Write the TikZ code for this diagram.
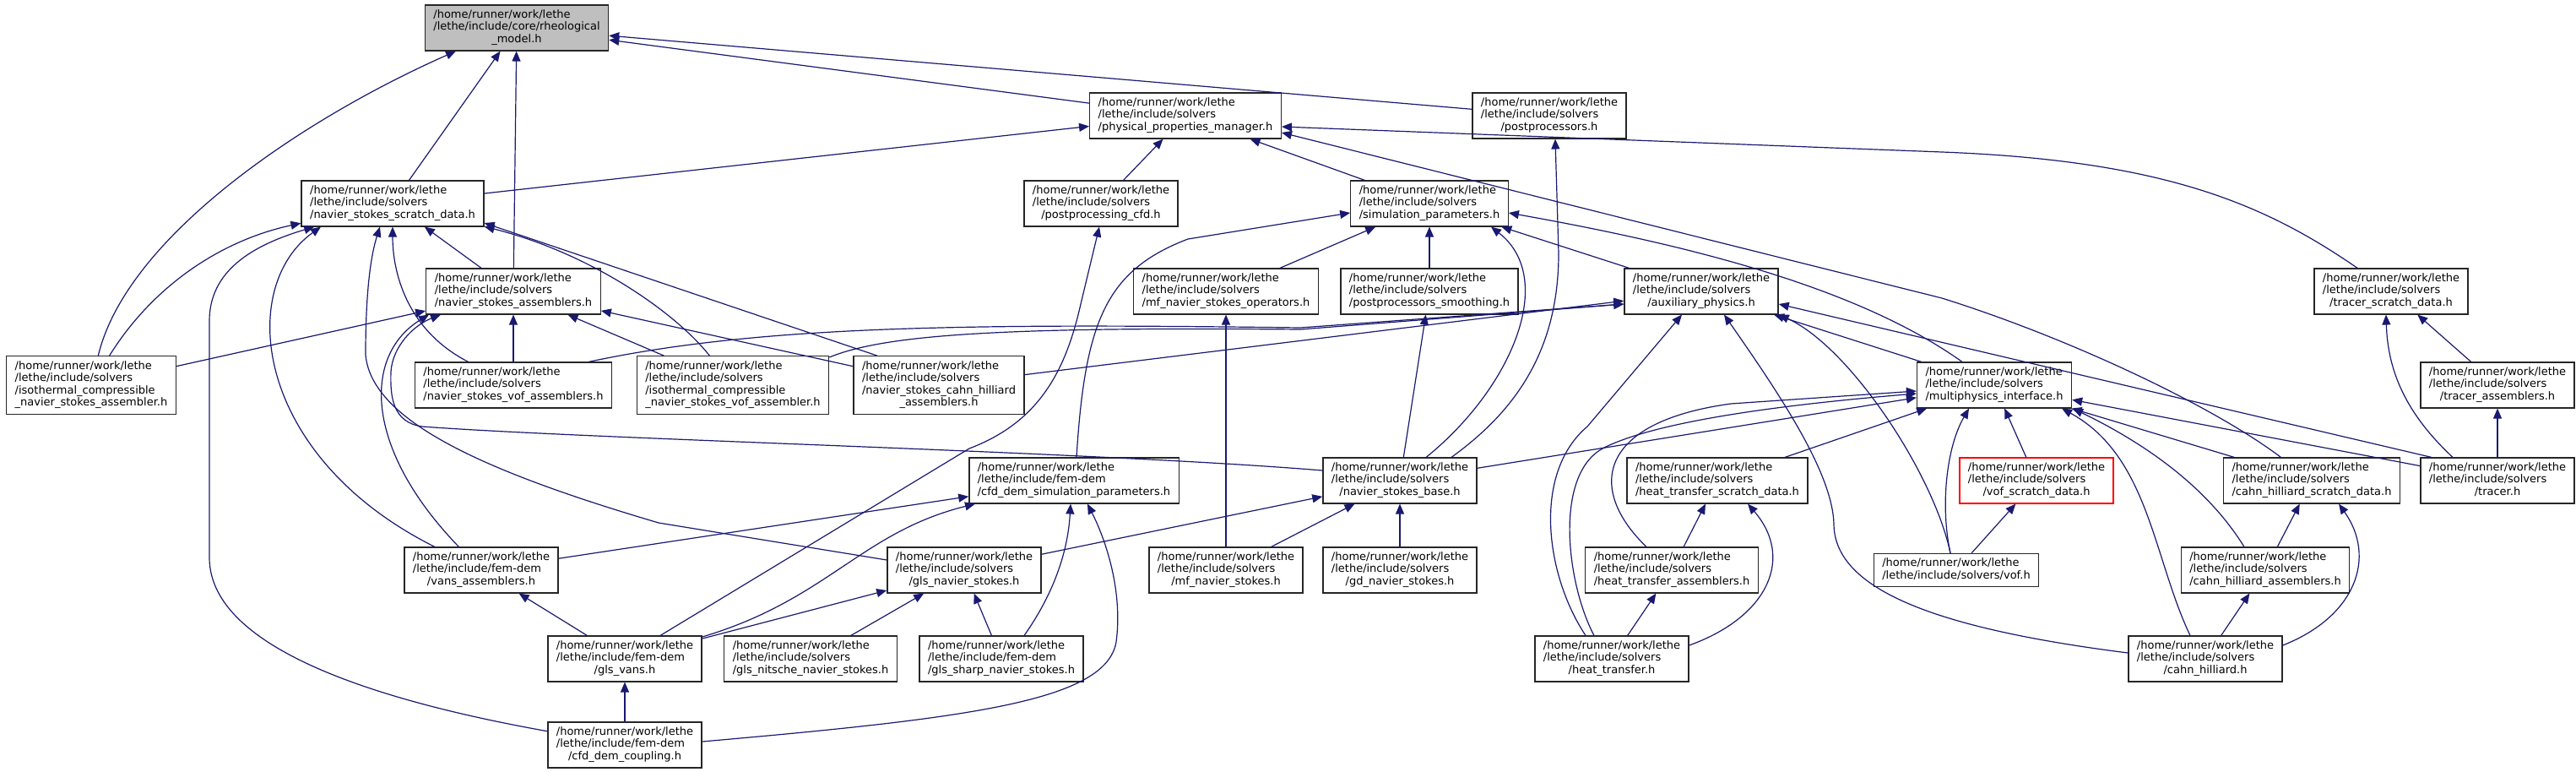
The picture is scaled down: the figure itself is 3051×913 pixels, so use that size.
\documentclass[tikz,border=0pt]{standalone}
\usepackage{fontspec}
\setmainfont{DejaVu Sans}
\usetikzlibrary{arrows.meta}

\definecolor{edgeblue}{HTML}{191970}
\definecolor{nodegray}{HTML}{BFBFBF}

\newcommand{\home}{/home/runner/work/lethe}
\newcommand{\fpath}[2]{\begin{tabular}{@{}l@{}}#1\\\multicolumn{1}{@{}c@{}}{#2}\end{tabular}}
\newcommand{\solv}[1]{\fpath{\home\\/lethe/include/solvers}{#1}}
\newcommand{\femdem}[1]{\fpath{\home\\/lethe/include/fem-dem}{#1}}

\tikzset{
  file/.style={draw=black!85, line width=1.3pt, fill=white, inner xsep=10pt, inner ysep=5pt,
    font=\fontsize{13}{14.6}\selectfont},
  edge/.style={draw=edgeblue, line width=1.2pt, -{Triangle[length=12pt,width=10pt]}},
}

\begin{document}
\begin{tikzpicture}[x=1pt,y=-1pt]
		\useasboundingbox[fill=white] (0,0) rectangle (3051,913);
		
		% Dateien
		\node[file, fill=nodegray] (rheo) at (612,33) {\fpath{\home\\/lethe/include/core/rheological}{\_model.h}};
		\node[file] (ppm) at (1404,137) {\solv{/physical\_properties\_manager.h}};
		\node[file] (pproc) at (1835,137) {\solv{/postprocessors.h}};
		\node[file] (scratch) at (465,241) {\solv{/navier\_stokes\_scratch\_data.h}};
		\node[file] (pcfd) at (1304,241) {\solv{/postprocessing\_cfd.h}};
		\node[file] (simpar) at (1693,241) {\solv{/simulation\_parameters.h}};
		\node[file] (nsasm) at (608,345) {\solv{/navier\_stokes\_assemblers.h}};
		\node[file] (mfops) at (1452,345) {\solv{/mf\_navier\_stokes\_operators.h}};
		\node[file] (ppsmooth) at (1693,345) {\solv{/postprocessors\_smoothing.h}};
		\node[file] (aux) at (2015,345) {\solv{/auxiliary\_physics.h}};
		\node[file] (trscratch) at (2832,345) {\solv{/tracer\_scratch\_data.h}};
		\node[file] (isoasm) at (108,456) {\fpath{\home\\/lethe/include/solvers\\/isothermal\_compressible}{\_navier\_stokes\_assembler.h}};
		\node[file] (vofasm) at (608,456) {\solv{/navier\_stokes\_vof\_assemblers.h}};
		\node[file] (isovof) at (868,456) {\fpath{\home\\/lethe/include/solvers\\/isothermal\_compressible}{\_navier\_stokes\_vof\_assembler.h}};
		\node[file] (chasmns) at (1112,456) {\fpath{\home\\/lethe/include/solvers\\/navier\_stokes\_cahn\_hilliard}{\_assemblers.h}};
		\node[file] (mpi) at (2362,456) {\solv{/multiphysics\_interface.h}};
		\node[file] (trasm) at (2958,456) {\solv{/tracer\_assemblers.h}};
		\node[file] (cdsp) at (1272,569) {\femdem{/cfd\_dem\_simulation\_parameters.h}};
		\node[file] (nsbase) at (1658,569) {\solv{/navier\_stokes\_base.h}};
		\node[file] (htscratch) at (2034,569) {\solv{/heat\_transfer\_scratch\_data.h}};
		\node[file, draw=red] (vofscratch) at (2412,569) {\solv{/vof\_scratch\_data.h}};
		\node[file] (chscratch) at (2738,569) {\solv{/cahn\_hilliard\_scratch\_data.h}};
		\node[file] (tracer) at (2958,569) {\solv{/tracer.h}};
		\node[file] (vansasm) at (570,675) {\femdem{/vans\_assemblers.h}};
		\node[file] (glsns) at (1142,675) {\solv{/gls\_navier\_stokes.h}};
		\node[file] (mfns) at (1452,675) {\solv{/mf\_navier\_stokes.h}};
		\node[file] (gdns) at (1658,675) {\solv{/gd\_navier\_stokes.h}};
		\node[file] (htasm) at (1980,675) {\solv{/heat\_transfer\_assemblers.h}};
		\node[file] (vof) at (2317,675) {\fpath{\home}{/lethe/include/solvers/vof.h}};
		\node[file] (chasm) at (2683,675) {\solv{/cahn\_hilliard\_assemblers.h}};
		\node[file] (glsvans) at (740,780) {\femdem{/gls\_vans.h}};
		\node[file] (nitsche) at (960,780) {\solv{/gls\_nitsche\_navier\_stokes.h}};
		\node[file] (sharp) at (1186,780) {\femdem{/gls\_sharp\_navier\_stokes.h}};
		\node[file] (ht) at (1909,780) {\solv{/heat\_transfer.h}};
		\node[file] (ch) at (2612,780) {\solv{/cahn\_hilliard.h}};
		\node[file] (cdc) at (740,882) {\femdem{/cfd\_dem\_coupling.h}};
		
		% rheological_model.h
		\draw[edge] (isoasm) .. controls (150,280) and (360,140) .. ([xshift=-72pt]rheo.south);
		\draw[edge] (scratch) -- (rheo);
		\draw[edge] (nsasm) -- (rheo);
		\draw[edge] (ppm) -- (rheo);
		\draw[edge] (pproc) -- (rheo);
		
		% physical_properties_manager.h
		\draw[edge] (scratch) -- (ppm);
		\draw[edge] (pcfd) -- (ppm);
		\draw[edge] (simpar) -- (ppm);
		\draw[edge] (trscratch) .. controls (2680,240) and (2560,190) .. (2300,180) -- ([yshift=-13pt]ppm.east);
		\draw[edge] (chscratch) .. controls (2620,480) and (2450,400) .. (2300,353) -- ([yshift=-20pt]ppm.east);
		
		% postprocessors.h
		\draw[edge] ([xshift=61pt]nsbase.north) .. controls (1790,490) and (1846,420) .. (1846,300) -- ([xshift=7pt]pproc.south);
		
		% navier_stokes_scratch_data.h
		\draw[edge] (isoasm) .. controls (180,340) and (260,285) .. (scratch);
		\draw[edge] (cdc) .. controls (420,825) and (248,760) .. (248,660) -- (248,380) .. controls (248,320) and (300,290) .. (scratch);
		\draw[edge] (vansasm) .. controls (300,540) and (280,340) .. ([xshift=-85pt]scratch.south);
		\draw[edge] ([yshift=12pt]glsns.west) -- (780,619) .. controls (580,560) and (440,500) .. (433,420) .. controls (433,340) and (440,300) .. ([xshift=-15pt]scratch.south);
		\draw[edge] (vofasm) .. controls (480,390) and (465,320) .. (scratch);
		\draw[edge] (nsasm) -- (scratch);
		\draw[edge] (isovof) .. controls (800,370) and (700,300) .. (scratch);
		\draw[edge] ([xshift=-73pt]chasmns.north) -- ([yshift=-23pt]scratch.east);
		
		% navier_stokes_assemblers.h
		\draw[edge] (isoasm) -- (nsasm);
		\draw[edge] (vansasm) .. controls (430,530) and (430,420) .. ([xshift=-100pt]nsasm.south);
		\draw[edge] ([yshift=12pt]nsbase.west) .. controls (1300,535) and (700,520) .. (500,505) .. controls (465,500) and (462,470) .. (463,440) .. controls (465,410) and (490,385) .. ([xshift=-86pt]nsasm.south);
		\draw[edge] (vofasm) -- (nsasm);
		\draw[edge] (chasmns) -- (nsasm);
		\draw[edge] (isovof) -- (nsasm);
		
		% auxiliary_physics.h
		\draw[edge] ([xshift=89pt]vofasm.north) .. controls (900,385) and (1150,383) .. (1540,388) -- ([yshift=-15pt]aux.west);
		\draw[edge] ([yshift=33pt]isovof.east) .. controls (1050,395) and (1200,387) .. (1540,390) -- ([yshift=-15pt]aux.west);
		\draw[edge] (chasmns) -- (aux);
		\draw[edge] ([xshift=-31pt]ht.north) .. controls (1830,680) and (1815,560) .. (1880,505) -- ([xshift=-23pt]aux.south);
		\draw[edge] ([yshift=7pt]ch.west) .. controls (2300,745) and (2172,700) .. (2172,620) .. controls (2170,560) and (2110,470) .. ([xshift=27pt]aux.south);
		\draw[edge] ([xshift=-7pt]vof.north) .. controls (2290,560) and (2190,410) .. (aux.south east);
		\draw[edge] (mpi) -- (aux);
		\draw[edge] ([xshift=-78pt]tracer.north) -- ([yshift=-15pt]aux.east);
		
		% simulation_parameters.h
		\draw[edge] ([xshift=3pt]cdsp.north) .. controls (1285,380) and (1310,320) .. (1407,283) -- ([yshift=-11pt]simpar.west);
		\draw[edge] (mfops) -- (simpar);
		\draw[edge] (ppsmooth) -- (simpar);
		\draw[edge] ([xshift=31pt]nsbase.north) .. controls (1790,460) and (1845,330) .. ([xshift=73pt]simpar.south);
		\draw[edge] (aux) -- (simpar);
		\draw[edge] ([xshift=-38pt]mpi.north) .. controls (2200,340) and (2000,290) .. ([yshift=-11pt]simpar.east);
		
		% postprocessors_smoothing.h, mf_navier_stokes_operators.h
		\draw[edge] (nsbase) -- (ppsmooth);
		\draw[edge] (mfns) -- (mfops);
		
		% multiphysics_interface.h
		\draw[edge] (htscratch) -- (mpi);
		\draw[edge] (tracer) -- (mpi);
		\draw[edge] (nsbase) -- (mpi);
		\draw[edge] ([xshift=-7pt]vof.north) .. controls (2298,600) and (2305,530) .. ([xshift=-30pt]mpi.south);
		\draw[edge] (vofscratch) -- (mpi);
		\draw[edge] ([xshift=-18pt]ch.north) .. controls (2550,660) and (2545,540) .. ([xshift=80pt]mpi.south);
		\draw[edge] ([xshift=-25pt]chasm.north) .. controls (2610,570) and (2530,520) .. ([xshift=93pt]mpi.south);
		\draw[edge] (chscratch) -- (mpi);
		\draw[edge] ([xshift=-30pt]htasm.north) .. controls (1880,580) and (1890,500) .. (2050,478) -- ([yshift=-7pt]mpi.west);
		\draw[edge] ([xshift=-21pt]ht.north) .. controls (1855,690) and (1840,560) .. (1900,530) .. controls (1960,500) and (2100,480) .. ([yshift=-10pt]mpi.west);
		
		% navier_stokes_base.h
		\draw[edge] (glsns) -- (nsbase);
		\draw[edge] (mfns) -- (nsbase);
		\draw[edge] (gdns) -- (nsbase);
		
		% cfd_dem_simulation_parameters.h
		\draw[edge] (vansasm) -- (cdsp);
		\draw[edge] ([yshift=26pt]glsvans.east) .. controls (980,710) and (1020,630) .. ([xshift=-117pt]cdsp.south);
		\draw[edge] ([xshift=27pt]sharp.north) .. controls (1250,700) and (1265,650) .. ([xshift=-4pt]cdsp.south);
		\draw[edge] ([yshift=4pt]cdc.east) .. controls (1150,850) and (1310,830) .. (1322,760) .. controls (1330,700) and (1310,640) .. ([xshift=16pt]cdsp.south);
		
		% gls_navier_stokes.h
		\draw[edge] (glsvans) -- (glsns);
		\draw[edge] (nitsche) -- (glsns);
		\draw[edge] (sharp) -- (glsns);
		
		% postprocessing_cfd.h
		\draw[edge] ([xshift=42pt]glsvans.north) -- (1148,531) .. controls (1230,500) and (1262,440) .. (1280,360) -- ([xshift=-2pt]pcfd.south);
		
		% vans
		\draw[edge] (cdc) -- (glsvans);
		\draw[edge] (glsvans) -- (vansasm);
		
		% heat transfer
		\draw[edge] ([yshift=16pt]ht.east) .. controls (2095,730) and (2125,660) .. ([xshift=36pt]htscratch.south);
		\draw[edge] (htasm) -- (htscratch);
		\draw[edge] (ht) -- (htasm);
		
		% vof
		\draw[edge] (vof) -- (vofscratch);
		
		% cahn hilliard
		\draw[edge] ([yshift=16pt]ch.east) .. controls (2790,730) and (2815,660) .. ([xshift=32pt]chscratch.south);
		\draw[edge] (chasm) -- (chscratch);
		\draw[edge] (ch) -- (chasm);
		
		% tracer
		\draw[edge] ([xshift=-53pt]tracer.north) .. controls (2850,490) and (2828,440) .. ([xshift=-6pt]trscratch.south);
		\draw[edge] (trasm) -- (trscratch);
		\draw[edge] (tracer) -- (trasm);
	\end{tikzpicture}
\end{document}
